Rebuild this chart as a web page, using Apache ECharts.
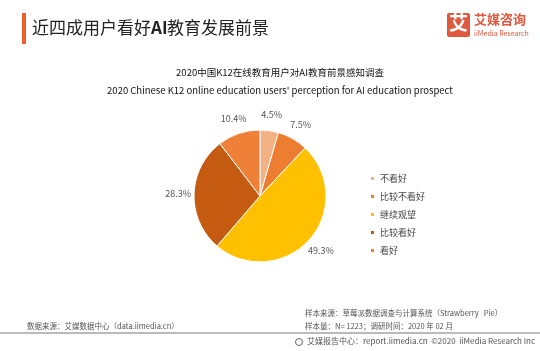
<!DOCTYPE html>
<html>
<head>
<meta charset="utf-8">
<script src="https://cdn.jsdelivr.net/npm/echarts@6/dist/echarts.min.js"></script>
<style>
html, body { margin: 0; padding: 0; background: #fff; }
#chart { width: 540px; height: 351px; }
</style>
</head>
<body>
<div id="chart"></div>
<script>
const categories = ['不看好', '比较不看好', '继续观望', '比较看好', '看好']
const values = [4.5, 7.5, 49.3, 28.3, 10.4]
const colors = ['#F4B183', '#ED7D31', '#FFC000', '#C55A11', '#EE8038']

const cjk = '"Noto Sans CJK SC", "Noto Sans", sans-serif'
const chart = echarts.init(document.getElementById('chart'))

const pieData = categories.map((name, i) => ({ name, value: values[i] }))

const option = {
  backgroundColor: '#fff',
  color: colors,
  title: [{
    text: '2020中国K12在线教育用户对AI教育前景感知调查',
    left: 275,
    top: 63,
    textAlign: 'center',
    textStyle: { fontFamily: cjk, fontSize: 9.5, fontWeight: 'normal', color: '#111' }
  }, {
    text: "2020 Chinese K12 online education users' perception for AI education prospect",
    left: 275,
    top: 81,
    textAlign: 'center',
    textStyle: { fontFamily: cjk, fontSize: 9.5, fontWeight: 'normal', color: '#111' }
  }],
  legend: {
    orient: 'vertical',
    left: 364,
    top: 169,
    icon: 'rect',
    itemWidth: 5,
    itemHeight: 5,
    itemGap: 9,
    data: categories,
    textStyle: { fontFamily: cjk, fontSize: 9, color: '#444' }
  },
  graphic: [
    { type: 'rect', shape: { x: 22, y: 13, width: 4, height: 31 }, style: { fill: '#F05F2A' } },
    { type: 'text', left: 32, top: 19, style: { text: '近四成用户看好', font: '17px ' + cjk, fill: '#222' } },
    { type: 'text', left: 151, top: 19, style: { text: 'AI', font: 'bold 17px ' + cjk, fill: '#222' } },
    { type: 'text', left: 167, top: 19, style: { text: '教育发展前景', font: '17px ' + cjk, fill: '#222' } },
    { type: 'rect', shape: { x: 447, y: 13, width: 23, height: 24, r: 2 }, style: { fill: '#E0583E' } },
    { type: 'text', left: 449, top: 13, style: { text: '艾', font: 'bold 19px ' + cjk, fill: '#fff' } },
    { type: 'text', left: 474, top: 13, style: { text: '艾媒咨询', font: 'bold 13px ' + cjk, fill: '#E0583E' } },
    { type: 'text', left: 474, top: 30, style: { text: 'iiMedia Research', font: '7px ' + cjk, fill: '#E0583E' } },
    { type: 'text', left: 305, top: 309, style: { text: '样本来源：草莓派数据调查与计算系统（Strawberry   Pie）', font: '7.5px ' + cjk, fill: '#555' } },
    { type: 'text', left: 305, top: 322, style: { text: '样本量：N= 1223；调研时间：2020 年 02 月', font: '7.5px ' + cjk, fill: '#555' } },
    { type: 'text', left: 27, top: 322, style: { text: '数据来源：艾媒数据中心（data.iimedia.cn）', font: '7.5px ' + cjk, fill: '#555' } },
    { type: 'line', shape: { x1: 0, y1: 333, x2: 540, y2: 333 }, style: { stroke: '#777', lineWidth: 1 } },
    { type: 'circle', shape: { cx: 299, cy: 342, r: 3.5 }, style: { fill: 'none', stroke: '#666', lineWidth: 1 } },
    { type: 'text', right: 5, top: 337, style: { text: '艾媒报告中心：report.iimedia.cn  ©2020  iiMedia Research Inc', font: '8px ' + cjk, fill: '#555' } }
  ],
  series: [{
    type: 'pie',
    center: [260, 196],
    radius: 66,
    startAngle: 90,
    clockwise: true,
    animation: false,
    silent: true,
    itemStyle: { borderColor: '#fff', borderWidth: 1 },
    label: { show: false },
    labelLine: { show: false },
    data: pieData
  }, {
    // invisible ring used only to place the percentage labels just outside the pie
    type: 'pie',
    center: [260, 196],
    radius: [72, 86],
    startAngle: 90,
    clockwise: true,
    animation: false,
    silent: true,
    itemStyle: { color: 'transparent', borderWidth: 0 },
    label: {
      show: true,
      position: 'inside',
      formatter: '{c}%',
      fontFamily: cjk,
      fontSize: 9,
      color: '#555'
    },
    labelLine: { show: false },
    data: pieData
  }]
}
chart.setOption(option)
</script>
</body>
</html>
